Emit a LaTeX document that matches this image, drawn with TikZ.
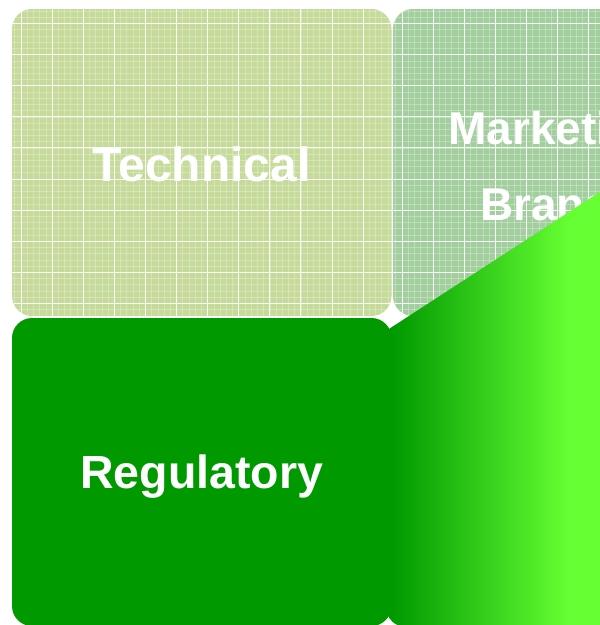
\documentclass[tikz,border=0pt]{standalone}
\usepackage{fontspec}
\setmainfont{Liberation Sans}
\definecolor{techc}{RGB}{198,218,154}
\definecolor{mktc}{RGB}{163,206,158}
\definecolor{regc}{RGB}{0,153,0}
\definecolor{gradl}{RGB}{0,153,0}
\definecolor{gradr}{RGB}{102,255,51}
\begin{document}
\begin{tikzpicture}[x=1pt,y=-1pt,
  gridlines/.style={path picture={
    \foreach \k in {0,...,62} {
      \draw[white, opacity=0.28, line width=0.6pt]
        ([xshift={2.78pt+6.22pt*\k}]path picture bounding box.north west) --
        ([xshift={2.78pt+6.22pt*\k}]path picture bounding box.south west);
      \draw[white, opacity=0.28, line width=0.6pt]
        ([yshift={-2.06pt-6.22pt*\k}]path picture bounding box.north west) --
        ([yshift={-2.06pt-6.22pt*\k}]path picture bounding box.north east);
    }
    \foreach \k in {0,...,12} {
      \draw[white, opacity=0.9, line width=0.9pt]
        ([xshift={9pt+31.1pt*\k}]path picture bounding box.north west) --
        ([xshift={9pt+31.1pt*\k}]path picture bounding box.south west);
      \draw[white, opacity=0.9, line width=0.9pt]
        ([yshift={-14.5pt-31.1pt*\k}]path picture bounding box.north west) --
        ([yshift={-14.5pt-31.1pt*\k}]path picture bounding box.north east);
    }
  }},
  quad/.style={minimum width=379.5pt, minimum height=307pt, rounded corners=20pt,
    inner sep=0pt, outer sep=0pt},
  lbl/.style={text=white, font=\fontsize{46}{46}\selectfont\bfseries, inner sep=0pt, anchor=base},
]
\useasboundingbox (0,0) rectangle (600,625);
\clip (0,0) rectangle (600,625);
% upper quadrants
\node[quad, fill=techc, gridlines] (tech) at (201.75,162.5) {};
\node[quad, fill=mktc, gridlines, minimum width=380pt] (mkt) at (583,162.5) {};
\node[lbl, font=\fontsize{48}{48}\selectfont\bfseries] (techt) at (201.75,181) {Technical};
\node[lbl] (mkt1) at (580,144) {Marketing \&};
\node[lbl] (mkt2) at (581,220) {Branding};
% gradient shape
\begin{scope}
  \clip (386,330.9) -- (720,113.8) -- (720,627) -- (406,627)
    .. controls (395,627) and (386,618) .. (386,607) -- cycle;
  \fill[gradl] (380,0) rectangle (393,640);
  \fill[gradr] (568,0) rectangle (720,640);
  \shade[left color=gradl, right color=gradr] (392,0) rectangle (569,640);
\end{scope}
% lower left quadrant
\node[quad, fill=regc, minimum height=308pt] (reg) at (201.75,472) {};
\node[lbl, font=\fontsize{46.5}{46.5}\selectfont\bfseries] (regt) at (201.75,488) {Regulatory};
\end{tikzpicture}
\end{document}
